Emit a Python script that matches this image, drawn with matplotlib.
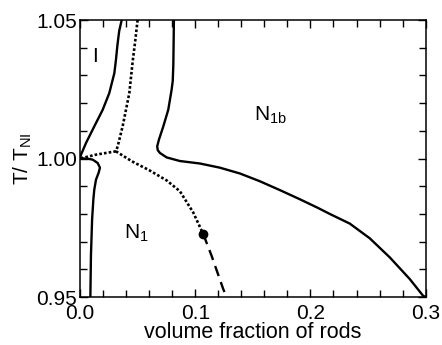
import numpy as np
import matplotlib.pyplot as plt
from matplotlib.ticker import MultipleLocator

plt.rcParams['font.family'] = ['Liberation Sans', 'DejaVu Sans']

# Граница изотропной фазы (I)
iso_x = [0.0, 0.0009, 0.0052, 0.0124, 0.0197, 0.0254, 0.0298, 0.0312, 0.0325, 0.034, 0.0362]
iso_y = [1.0, 1.0014, 1.0056, 1.0116, 1.0176, 1.0236, 1.0308, 1.0356, 1.041, 1.046, 1.05]

# Нижняя граница у оси (N1)
low_x = [0.0, 0.006, 0.011, 0.0153, 0.0173, 0.0162, 0.0139, 0.0124, 0.0116, 0.0105, 0.0095, 0.009]
low_y = [1.0, 1.0, 0.9996, 0.9984, 0.9967, 0.9949, 0.9924, 0.9888, 0.9853, 0.978, 0.965, 0.95]

# Граница N1b
n1b_x = [0.0815, 0.0812, 0.081, 0.0805, 0.0795, 0.0766, 0.0723, 0.0685, 0.067, 0.0675,
         0.0694, 0.0752, 0.0867, 0.1041, 0.1214, 0.1388, 0.1561, 0.1735, 0.1908, 0.2064,
         0.2168, 0.2342, 0.2515, 0.2689, 0.2862, 0.2977, 0.3]
n1b_y = [1.05, 1.04, 1.0338, 1.028, 1.0248, 1.0176, 1.0116, 1.0068, 1.0044, 1.003,
         1.002, 1.0004, 0.9991, 0.9982, 0.9967, 0.9946, 0.9918, 0.9886, 0.9853, 0.9822,
         0.98, 0.9765, 0.9712, 0.9643, 0.9565, 0.9505, 0.95]

# Пунктирные линии
dot_up_x = [0.050, 0.0478, 0.0457, 0.0428, 0.037, 0.0327, 0.0312]
dot_up_y = [1.05, 1.042, 1.035, 1.0236, 1.0116, 1.0044, 1.0026]
dot_left_x = [0.0312, 0.0139, 0.0]
dot_left_y = [1.0026, 1.0014, 1.0]
dot_down_x = [0.0312, 0.045, 0.060, 0.0752, 0.0867, 0.0983, 0.107]
dot_down_y = [1.0026, 0.999, 0.9958, 0.9921, 0.9882, 0.9805, 0.9727]

# Штриховая линия от точки
dash_x = [0.107, 0.1142, 0.1243, 0.1272]
dash_y = [0.9727, 0.9649, 0.9529, 0.95]

# Точка
pt_x, pt_y = 0.107, 0.9727

fig = plt.figure(figsize=(4.42, 3.45), dpi=100)
ax = fig.add_axes([0.181, 0.139, 0.782, 0.803])

dots = (0, (1, 0.8))
ax.plot(iso_x, iso_y, color='black', lw=1.7)
ax.plot(low_x, low_y, color='black', lw=1.7)
ax.plot(n1b_x, n1b_y, color='black', lw=1.7)
ax.plot(dot_up_x, dot_up_y, color='black', lw=1.9, linestyle=dots)
ax.plot(dot_left_x, dot_left_y, color='black', lw=1.9, linestyle=dots)
ax.plot(dot_down_x, dot_down_y, color='black', lw=1.9, linestyle=dots)
ax.plot(dash_x, dash_y, color='black', lw=1.7, linestyle=(0, (4.5, 2.7)))
ax.plot(pt_x, pt_y, 'o', color='black', markersize=6)

ax.text(0.013, 1.0367, 'I', fontsize=15, ha='center', va='center')
ax.text(0.165, 1.0155, r'N$_{\mathregular{1b}}$', fontsize=15, ha='center', va='center')
ax.text(0.049, 0.973, r'N$_{\mathregular{1}}$', fontsize=15, ha='center', va='center')

ax.set_xlim(0.0, 0.3)
ax.set_ylim(0.95, 1.05)
ax.xaxis.set_major_locator(MultipleLocator(0.1))
ax.xaxis.set_minor_locator(MultipleLocator(0.02))
ax.yaxis.set_major_locator(MultipleLocator(0.05))
ax.yaxis.set_minor_locator(MultipleLocator(0.01))
ax.xaxis.set_major_formatter(plt.FormatStrFormatter('%.1f'))
ax.yaxis.set_major_formatter(plt.FormatStrFormatter('%.2f'))
ax.tick_params(which='both', direction='in', top=True, right=True, labelsize=15, width=1.0)
ax.tick_params(which='major', length=6)
ax.tick_params(which='minor', length=5)
ax.tick_params(axis='y', which='major', pad=2)
ax.tick_params(axis='x', which='major', pad=5)
for s in ax.spines.values():
    s.set_linewidth(1.1)

ax.set_xlabel('volume fraction of rods', fontsize=15.5, labelpad=-1)
ax.set_ylabel(r'T/ T$_{\mathregular{NI}}$', fontsize=15, labelpad=2)

plt.savefig('out.png', dpi=100)
